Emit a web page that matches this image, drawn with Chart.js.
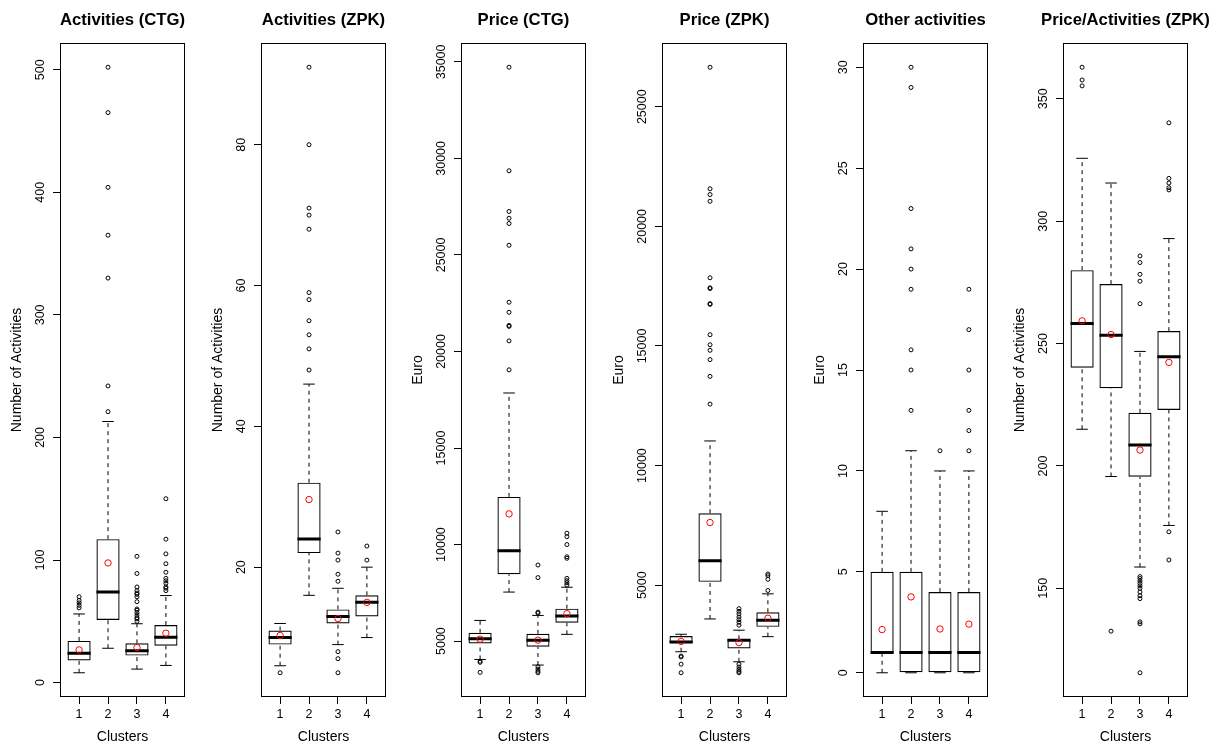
<!DOCTYPE html>
<html>
<head>
<meta charset="utf-8">
<title>Cluster profiles</title>
<script src="https://cdn.jsdelivr.net/npm/chart.js@4.4.1/dist/chart.umd.min.js"></script>
<style>
  html, body { margin: 0; padding: 0; background: #fff; }
  #wrap { position: relative; width: 1220px; height: 747px; overflow: hidden; }
  #wrap canvas { position: absolute; top: 0; }
</style>
</head>
<body>
<div id="wrap"></div>
<script>
// ---- data: one row per panel, one entry per cluster ----
const titles = ['Activities (CTG)', 'Activities (ZPK)', 'Price (CTG)', 'Price (ZPK)', 'Other activities', 'Price/Activities (ZPK)'];
const yTitles = ['Number of Activities', 'Number of Activities', 'Euro', 'Euro', 'Euro', 'Number of Activities'];
const clusters = [1, 2, 3, 4];

const yTicks = [
  [0, 100, 200, 300, 400, 500],
  [20, 40, 60, 80],
  [5000, 10000, 15000, 20000, 25000, 30000, 35000],
  [5000, 10000, 15000, 20000, 25000],
  [0, 5, 10, 15, 20, 25, 30],
  [150, 200, 250, 300, 350]
];

const whiskLow = [
  [8, 28, 11, 14],
  [6, 16, 9, 10],
  [4050, 7540, 3760, 5350],
  [2220, 3590, 1800, 2850],
  [0, 0, 0, 0],
  [215, 195.7, 158.7, 175.7]
];
const q1 = [
  [18, 51, 22, 30],
  [9, 22, 12, 13],
  [4880, 8460, 4710, 5950],
  [2570, 5140, 2360, 3260],
  [1, 0, 0, 0],
  [240.1, 231.8, 195.6, 222.9]
];
const median = [
  [24, 74, 26, 37],
  [10, 24, 13, 15],
  [5120, 9680, 5050, 6300],
  [2630, 6020, 2700, 3540],
  [1, 1, 1, 1],
  [258.2, 253.4, 208.6, 244.6]
];
const q3 = [
  [34, 117, 32, 47],
  [11, 32, 14, 16],
  [5430, 12470, 5380, 6680],
  [2880, 8010, 2740, 3870],
  [5, 5, 4, 4],
  [280, 274.3, 221.7, 255.1]
];
const whiskHigh = [
  [56, 213, 48, 71],
  [12, 46, 17, 20],
  [6070, 17850, 6330, 7790],
  [2950, 11030, 3120, 4640],
  [8, 11, 10, 10],
  [325.7, 315.6, 246.8, 292.9]
];
const means = [
  [26.7, 97.6, 28.6, 40.3],
  [10.3, 29.6, 12.7, 15.0],
  [5100, 11590, 5050, 6420],
  [2650, 7620, 2600, 3620],
  [2.14, 3.76, 2.17, 2.41],
  [259.3, 253.7, 206.5, 242.3]
];
const outliers = [
  [
    [61, 63, 65, 67, 70],
    [221, 242, 330, 365, 404, 465, 502],
    [50, 52, 53, 55, 57, 59, 60, 66, 70, 72, 73, 75, 78, 89, 103],
    [75, 77, 78, 81, 83, 85, 90, 97, 105, 117, 150]
  ],
  [
    [5],
    [48, 51, 53, 55, 58, 59, 68, 70, 71, 80, 91],
    [5, 7, 8, 18, 19, 21, 22, 25],
    [21, 23]
  ],
  [
    [3380, 3900, 3960],
    [19050, 20550, 21300, 21350, 22030, 22550, 25500, 26630, 26900, 27250, 29360, 34720],
    [3360, 3440, 3550, 3670, 6450, 6500, 8290, 8940],
    [7900, 8020, 8130, 8250, 9290, 9370, 10000, 10410, 10590]
  ],
  [
    [1340, 1700, 2000, 2040],
    [12570, 13730, 14430, 14820, 15050, 15470, 16740, 16770, 17400, 17430, 17850, 21050, 21330, 21570, 26650],
    [1340, 1400, 1480, 1580, 1700, 3330, 3450, 3560, 3670, 3800, 3910, 4020],
    [4780, 5250, 5400, 5470]
  ],
  [
    [],
    [13, 15, 16, 19, 20, 21, 23, 29, 30],
    [11],
    [11, 12, 13, 15, 17, 19]
  ],
  [
    [355.3, 357.7, 362.9],
    [132.5],
    [115.5, 135.5, 136.3, 145.8, 147, 148.5, 150, 151, 152, 153, 154, 154.8, 266.3, 275.5, 278.3, 283.1, 285.8],
    [161.6, 173.1, 312.8, 313.7, 315.6, 317.5, 340.2]
  ]
];

// ---- drawing ----
const FONT = "'Liberation Sans', Arial, Helvetica, sans-serif";
Chart.defaults.font.family = FONT;
Chart.defaults.color = '#000';

const AXIS_W = 60;      // room for the y axis left of the plot frame
const PLOT_W = 125;
const CANVAS_W = AXIS_W * 2 + PLOT_W;   // symmetric, so the title centres over the plot
const PANEL_STEP = 200.67;
const TICK_FONT = 12.5;
const BOX_HALF = 0.4;   // boxwex 0.8
const CAP_HALF = 0.2;   // staple = half the box

const frameBox = {
  id: 'frameBox',
  afterDraw(chart) {
    const { ctx, chartArea: a } = chart;
    ctx.save();
    ctx.strokeStyle = '#000';
    ctx.lineWidth = 1;
    ctx.strokeRect(Math.round(a.left) + 0.5, Math.round(a.top) + 0.5,
                   Math.round(a.right - a.left) - 1, Math.round(a.bottom - a.top) - 1);
    ctx.restore();
  }
};

const measureCtx = document.createElement('canvas').getContext('2d');
measureCtx.font = `${TICK_FONT}px ${FONT}`;

function segments(list) {
  const out = [];
  list.forEach(([x0, y0, x1, y1]) => {
    out.push({ x: x0, y: y0 }, { x: x1, y: y1 }, { x: x1, y: null });
  });
  return out;
}

function buildPanel(i) {
  const wrap = document.getElementById('wrap');
  const cv = document.createElement('canvas');
  const frameLeft = Math.round(60 + i * PANEL_STEP);
  cv.width = CANVAS_W;
  cv.height = 747;
  cv.style.left = (frameLeft - AXIS_W) + 'px';
  wrap.appendChild(cv);

  // value range as R does it: whiskers and outliers, widened by 4%
  const all = whiskLow[i].concat(whiskHigh[i], ...outliers[i]);
  const lo = Math.min(...all), hi = Math.max(...all);
  const ext = (hi - lo) * 0.04;

  const n = clusters.length;
  const xMin = 0.5 - 0.04 * n, xMax = n + 0.5 + 0.04 * n;

  // rotated tick labels: keep their centre ~19px off the frame
  const widest = Math.max(...yTicks[i].map(v => measureCtx.measureText(String(v)).width));
  const yPad = 12 - widest / 2;

  const boxData = clusters.map((c, k) => ({ x: c, y: [q1[i][k], q3[i][k]] }));
  const medData = segments(clusters.map((c, k) => [c - BOX_HALF, median[i][k], c + BOX_HALF, median[i][k]]));
  const whiskData = segments(clusters.flatMap((c, k) => [
    [c, q3[i][k], c, whiskHigh[i][k]],
    [c, whiskLow[i][k], c, q1[i][k]]
  ]));
  const capData = segments(clusters.flatMap((c, k) => [
    [c - CAP_HALF, whiskHigh[i][k], c + CAP_HALF, whiskHigh[i][k]],
    [c - CAP_HALF, whiskLow[i][k], c + CAP_HALF, whiskLow[i][k]]
  ]));
  const outData = clusters.flatMap((c, k) => outliers[i][k].map(v => ({ x: c, y: v })));
  const meanData = clusters.map((c, k) => ({ x: c, y: means[i][k] }));

  const lineStyle = { type: 'line', borderColor: '#000', pointRadius: 0, fill: false, spanGaps: false, tension: 0 };

  new Chart(cv, {
    type: 'bar',
    data: {
      datasets: [
        { type: 'scatter', data: meanData, pointStyle: 'circle', pointRadius: 3.2, borderWidth: 1,
          borderColor: '#ff0000', backgroundColor: 'rgba(0,0,0,0)' },
        { type: 'scatter', data: outData, pointStyle: 'circle', pointRadius: 2, borderWidth: 1,
          borderColor: '#000', backgroundColor: 'rgba(0,0,0,0)' },
        { ...lineStyle, data: medData, borderWidth: 3, borderCapStyle: 'butt' },
        { ...lineStyle, data: capData, borderWidth: 1 },
        { ...lineStyle, data: whiskData, borderWidth: 1, borderDash: [4, 4] },
        { type: 'bar', data: boxData, backgroundColor: 'rgba(255,255,255,0)', borderColor: '#000',
          borderWidth: 1.2, borderSkipped: false, categoryPercentage: 1, barPercentage: 0.8 }
      ]
    },
    options: {
      responsive: false,
      devicePixelRatio: 1,
      animation: false,
      events: [],
      layout: { padding: 0 },
      plugins: {
        legend: { display: false },
        tooltip: { enabled: false },
        title: {
          display: true, text: titles[i], color: '#000',
          font: { size: 16.7, weight: 'bold' }, padding: { top: 10, bottom: 13 }
        }
      },
      scales: {
        x: {
          type: 'linear', min: xMin, max: xMax, offset: false,
          afterBuildTicks: s => { s.ticks = clusters.map(v => ({ value: v })); },
          afterFit: s => { s.height = 50; },
          grid: { drawOnChartArea: false, drawTicks: true, tickLength: 7, tickColor: '#000', offset: false },
          border: { display: false },
          ticks: { font: { size: TICK_FONT }, padding: 3, maxRotation: 0, autoSkip: false, callback: v => String(v) },
          title: { display: true, text: 'Clusters', font: { size: 14 }, padding: { top: 0, bottom: 1 } }
        },
        y: {
          type: 'linear', min: lo - ext, max: hi + ext,
          afterBuildTicks: s => { s.ticks = yTicks[i].map(v => ({ value: v })); },
          afterFit: s => { s.width = AXIS_W; },
          grid: { drawOnChartArea: false, drawTicks: true, tickLength: 7, tickColor: '#000' },
          border: { display: false },
          ticks: { font: { size: TICK_FONT }, minRotation: 90, maxRotation: 90, crossAlign: 'center',
                   padding: yPad, autoSkip: false, callback: v => String(v) },
          title: { display: true, text: yTitles[i], font: { size: 14 }, padding: { top: 9, bottom: 0 } }
        },
        // blank right-hand margin, mirrors the y axis so the title sits over the plot
        yMargin: {
          type: 'linear', position: 'right', min: lo - ext, max: hi + ext,
          afterFit: s => { s.width = CANVAS_W - AXIS_W - PLOT_W; },
          grid: { display: false }, border: { display: false }, ticks: { display: false }
        }
      }
    },
    plugins: [frameBox]
  });
}

titles.forEach((t, i) => buildPanel(i));
</script>
</body>
</html>
